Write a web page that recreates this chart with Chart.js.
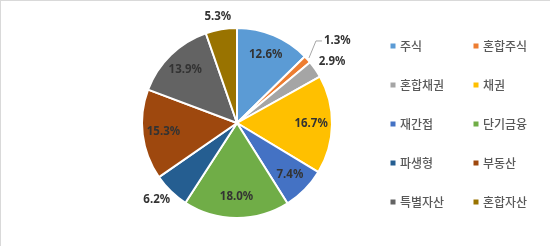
<!DOCTYPE html>
<html>
<head>
<meta charset="utf-8">
<script src="https://cdn.jsdelivr.net/npm/chart.js@4"></script>
<style>
  html, body { margin: 0; padding: 0; background: #fff; }
  #caja { position: relative; width: 550px; height: 249px; }
  #marco { position: absolute; left: 0; top: 0; width: 550px; height: 246px; border-top: 1px solid #d9d9d9; border-left: 1px solid #d9d9d9; box-sizing: border-box; pointer-events: none; }
  canvas { position: absolute; left: 0; top: 0; }
</style>
</head>
<body>
<div id="caja">
  <canvas id="grafico" width="550" height="249"></canvas>
  <div id="marco"></div>
</div>
<script>
//datos
const categorias = ['주식', '혼합주식', '혼합채권', '채권', '재간접', '단기금융', '파생형', '부동산', '특별자산', '혼합자산'];
const valores = [12.6, 1.3, 2.9, 16.7, 7.4, 18.0, 6.2, 15.3, 13.9, 5.3];

const colores = ['#5B9BD5', '#ED7D31', '#A5A5A5', '#FFC000', '#4472C4', '#70AD47', '#255E91', '#9E480E', '#636363', '#997300'];

//etiquetas de porcentaje
const etiquetas = {
    id: 'etiquetas',
    afterDatasetsDraw(chart) {
        const ctx = chart.ctx;
        const arcos = chart.getDatasetMeta(0).data;
        ctx.save();
        ctx.font = 'bold 11.5px "Noto Sans", sans-serif';
        ctx.fillStyle = '#333333';
        ctx.textBaseline = 'middle';
        arcos.forEach((arco, i) => {
            const { x, y, startAngle, endAngle, outerRadius } = arco.getProps(['x', 'y', 'startAngle', 'endAngle', 'outerRadius'], true);
            const medio = (startAngle + endAngle) / 2;
            const cos = Math.cos(medio);
            const sin = Math.sin(medio);
            const texto = valores[i].toFixed(1) + '%';
            const ancho = ctx.measureText(texto).width;

            if (valores[i] >= 7) {
                // dentro de la rebanada
                ctx.textAlign = 'center';
                ctx.fillText(texto, x + cos * outerRadius * 0.78, y + sin * outerRadius * 0.78);
            } else if (valores[i] < 2) {
                // afuera con linea guia
                const x0 = x + cos * (outerRadius + 2);
                const y0 = y + sin * (outerRadius + 2);
                const x1 = x0 + 7;
                const y1 = y0 - 17;
                const x2 = x1 + 6;
                ctx.strokeStyle = '#a6a6a6';
                ctx.lineWidth = 1;
                ctx.beginPath();
                ctx.moveTo(x0, y0);
                ctx.lineTo(x1, y1);
                ctx.lineTo(x2, y1);
                ctx.stroke();
                ctx.textAlign = 'left';
                ctx.fillText(texto, x2 + 2, y1);
            } else {
                // afuera
                const r = outerRadius + 7;
                ctx.textAlign = 'center';
                ctx.fillText(texto, x + cos * r + cos * ancho / 2, y + sin * r + sin * 5.5);
            }
        });
        ctx.restore();
    }
};

//leyenda en dos columnas
const leyenda = {
    id: 'leyenda',
    afterDraw(chart) {
        const ctx = chart.ctx;
        const columnas = [393, 476];
        ctx.save();
        ctx.font = '500 12px "Noto Sans CJK KR", sans-serif';
        ctx.textBaseline = 'middle';
        ctx.textAlign = 'left';
        categorias.forEach((nombre, i) => {
            const cx = columnas[i % 2];
            const cy = 46 + Math.floor(i / 2) * 39;
            ctx.fillStyle = colores[i];
            ctx.fillRect(cx - 2.5, cy - 2.5, 5, 5);
            ctx.fillStyle = '#595959';
            ctx.fillText(nombre, cx + 7, cy + 0.5);
        });
        ctx.restore();
    }
};

const ctx = document.getElementById('grafico').getContext('2d');
const miPastel = new Chart(ctx, {
    type: 'pie',
    data: {
        labels: categorias,
        datasets: [{
            data: valores,
            backgroundColor: colores,
            borderColor: '#ffffff',
            borderWidth: 2
        }]
    },
    options: {
        responsive: false,
        animation: false,
        events: [],
        radius: 95,
        layout: { padding: { left: 137, right: 213, top: 23, bottom: 26 } },
        plugins: {
            legend: { display: false },
            tooltip: { enabled: false }
        }
    },
    plugins: [etiquetas, leyenda]
});
</script>
</body>
</html>
